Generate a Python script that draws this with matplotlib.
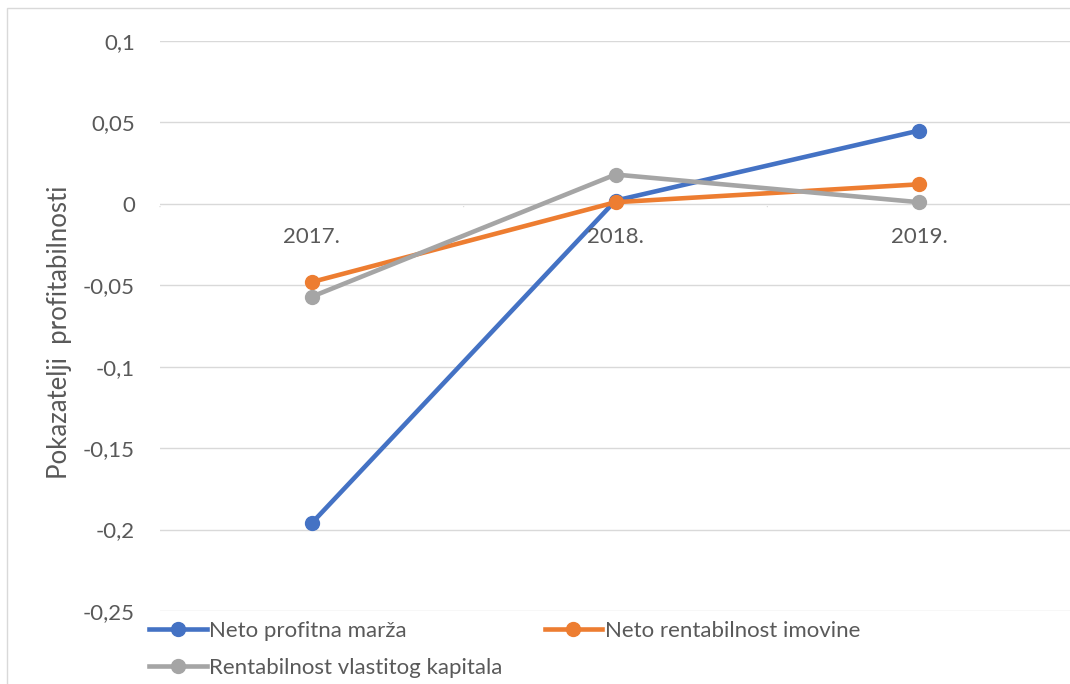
import matplotlib.pyplot as plt
from matplotlib.lines import Line2D
from matplotlib.patches import Rectangle

plt.rcParams["font.family"] = ["Lato", "DejaVu Sans"]

years = ["2017.", "2018.", "2019."]
neto_profitna_marza = [-0.196, 0.002, 0.045]
neto_rent_imovine = [-0.048, 0.001, 0.012]
rent_kapitala = [-0.057, 0.018, 0.001]

series_names = ["Neto profitna marža", "Neto rentabilnost imovine",
                "Rentabilnost vlastitog kapitala"]
colors = ["#4472C4", "#ED7D31", "#A5A5A5"]

y_ticks = [0.1, 0.05, 0, -0.05, -0.1, -0.15, -0.2, -0.25]
y_tick_labels = ["0,1", "0,05", "0", "-0,05", "-0,1", "-0,15", "-0,2", "-0,25"]

text_color = "#595959"
grid_color = "#D9D9D9"
fs = 16

fig = plt.figure(figsize=(10.7, 6.84), dpi=100)
ax = fig.add_axes([160 / 1070, 1 - 611 / 684, 911 / 1070, 570 / 684])

# outer chart border (light gray)
fig.patches.append(Rectangle((7 / 1070, -0.1), 1.2, 1.1 - 8 / 684,
                             transform=fig.transFigure, fill=False,
                             edgecolor="#D9D9D9", linewidth=1))

x = list(range(len(years)))
for vals, c in zip([neto_profitna_marza, neto_rent_imovine, rent_kapitala], colors):
    ax.plot(x, vals, color=c, linewidth=3.3, marker="o", markersize=10,
            solid_capstyle="round", zorder=3)

ax.set_xlim(-0.5, len(years) - 0.5)
ax.set_ylim(-0.25, 0.1)
ax.set_yticks(y_ticks)
ax.set_yticklabels(y_tick_labels)
ax.tick_params(axis="y", length=0, pad=18, labelsize=fs, labelcolor=text_color)
ax.set_xticks([])
for s in ax.spines.values():
    s.set_visible(False)

for yt in y_ticks:
    ax.axhline(yt, color=grid_color, linewidth=1, zorder=1)

# category tick marks on the zero line
for i in range(len(years) + 1):
    ax.annotate("", xy=(i - 0.5, 0), xytext=(0, -4), textcoords="offset points",
                xycoords="data", arrowprops=dict(arrowstyle="-", color=grid_color, lw=1))

for i, lab in enumerate(years):
    ax.annotate(lab, xy=(i, 0), xytext=(0, -24), textcoords="offset points",
                ha="center", va="center", fontsize=fs, color=text_color)

fig.text(60 / 1070, 1 - 332 / 684, "Pokazatelji  profitabilnosti", rotation=90,
         ha="center", va="center", fontsize=18.5, color=text_color)

# legend fills column-wise, so order entries to read row by row
order = [0, 2, 1]
handles = [Line2D([0], [0], color=colors[k], linewidth=3.3, marker="o", markersize=10)
           for k in order]
labels = [series_names[k] for k in order]
fig.legend(handles, labels, loc="upper left", ncol=2,
           bbox_to_anchor=(129 / 1070, 1 - 601 / 684), frameon=False,
           fontsize=fs, labelcolor=text_color, handlelength=2.6,
           handletextpad=0.1, columnspacing=1.9, labelspacing=0.75)

fig.savefig("out.png", dpi=100)
